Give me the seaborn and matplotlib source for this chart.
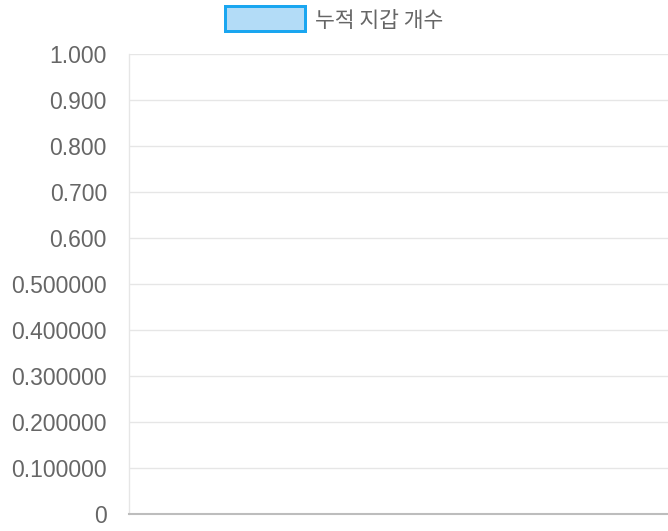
import matplotlib
matplotlib.use("Agg")
import matplotlib.pyplot as plt
import seaborn as sns
import pandas as pd
from matplotlib.patches import Rectangle

# Data (the chart shows no data points)
dates = []
wallet_counts = []
series_label = "누적 지갑 개수"
y_ticks = [0, 0.1, 0.2, 0.3, 0.4, 0.5, 0.6, 0.7, 0.8, 0.9, 1.0]
y_tick_labels = ["0", "0.100000", "0.200000", "0.300000", "0.400000", "0.500000",
                 "0.600", "0.700", "0.800", "0.900", "1.000"]

sns.set_style("white")
plt.rcParams['font.family'] = ['Liberation Sans', 'DejaVu Sans']

W, H = 668, 531
fig = plt.figure(figsize=(W / 100, H / 100), dpi=100)
ax = fig.add_axes([129 / W, 1 - 514 / H, 1 - 129 / W, (514 - 54) / H])

df = pd.DataFrame({"date": pd.Series(dates, dtype=float),
                   "count": pd.Series(wallet_counts, dtype=float)})
sns.lineplot(data=df, x="date", y="count", ax=ax, color="#1aa6f0")

ax.set_ylim(0, 1.0)
ax.set_xlim(0, 1)
ax.set_yticks(y_ticks)
ax.set_yticklabels(y_tick_labels)
ax.set_xticks([])
ax.set_xlabel("")
ax.set_ylabel("")

ax.yaxis.grid(True, color="#e6e6e6", linewidth=1.0)
ax.xaxis.grid(False)
ax.set_axisbelow(True)
ax.tick_params(axis="y", direction="out", length=14.4, width=1.0, color="#e0e0e0",
               pad=1.5, labelsize=16.5, labelcolor="#666666")
for s in ["top", "right"]:
    ax.spines[s].set_visible(False)
ax.spines["left"].set_color("#e6e6e6")
ax.spines["left"].set_linewidth(1.0)
ax.spines["bottom"].set_color("#bdbdbd")
ax.spines["bottom"].set_linewidth(1.5)

# Legend (Chart.js style, centered on canvas top)
lw_px = 3
rect = Rectangle(((223 + lw_px / 2) / W, 1 - (32 - lw_px / 2) / H),
                 (83 - lw_px) / W, (27 - lw_px) / H,
                 transform=fig.transFigure, facecolor="#b3dcf7",
                 edgecolor="#1aa6f0", linewidth=lw_px * 0.72)
fig.add_artist(rect)
fig.text(315 / W, 1 - 21 / H, series_label, ha="left", va="center",
         fontsize=15.5, color="#666666",
         family=["Noto Sans CJK KR", "DejaVu Sans"])

fig.savefig("out.png", dpi=100)
